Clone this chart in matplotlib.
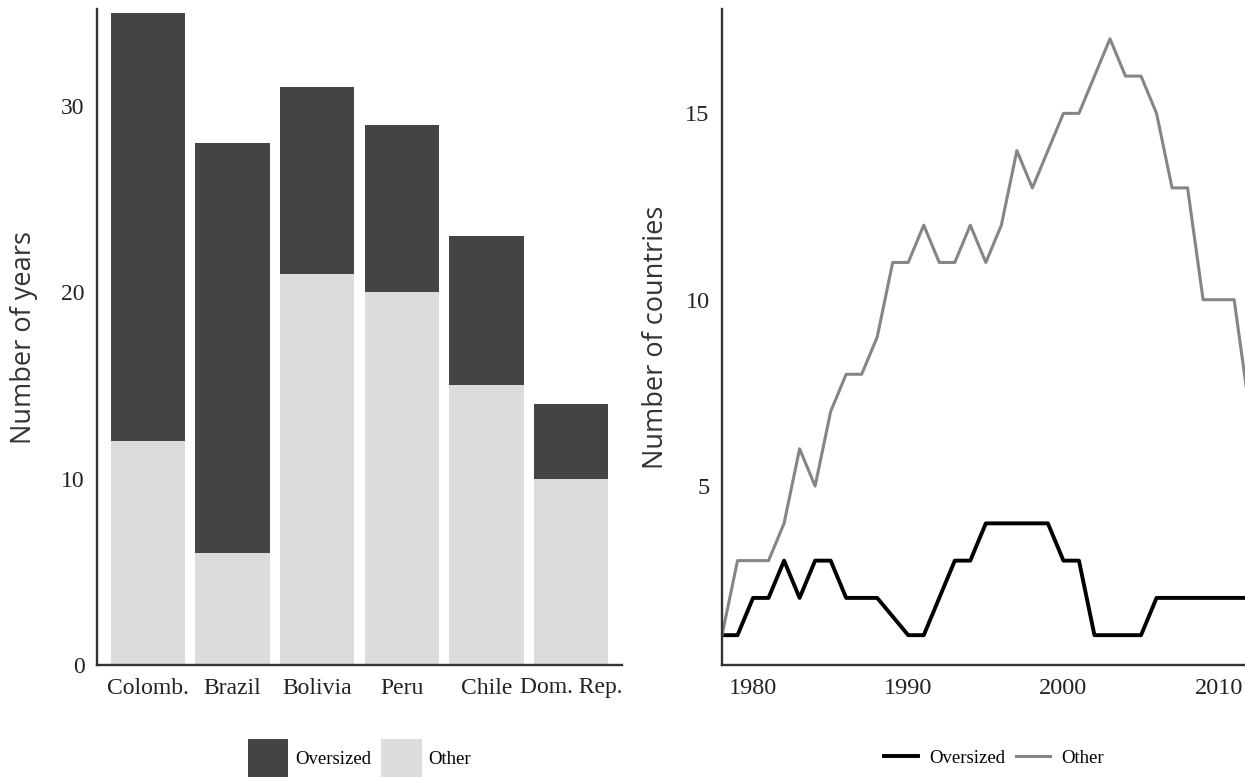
import numpy as np
import matplotlib
matplotlib.use("Agg")
import matplotlib.pyplot as plt

# years in office by country, split by type
countries = ["Colomb.", "Brazil", "Bolivia", "Peru", "Chile", "Dom. Rep."]
other_years = [12, 6, 21, 20, 15, 10]
oversized_years = [23, 22, 10, 9, 8, 4]

# number of countries per year
years = np.arange(1978, 2013)
oversized_count = [1, 1, 2, 2, 3, 2, 3, 3, 2, 2, 2, 1.5, 1, 1, 2, 3, 3, 4, 4, 4,
                   4, 4, 3, 3, 1, 1, 1, 1, 2, 2, 2, 2, 2, 2, 2]
other_count = [1, 3, 3, 3, 4, 6, 5, 7, 8, 8, 9, 11, 11, 12, 11, 11, 12, 11, 12, 14,
               13, 14, 15, 15, 16, 17, 16, 16, 15, 13, 13, 10, 10, 10, 7]
year_ticks = [1980, 1990, 2000, 2010]

DARK = "#444444"
LIGHT = "#dcdcdc"
GREY = "#858585"
SERIF = "Liberation Serif"
SANS = "Open Sans"

fig = plt.figure(figsize=(12.45, 7.78), dpi=100)
ax1 = fig.add_axes([97 / 1245, 113 / 778, 525 / 1245, 656 / 778])
ax2 = fig.add_axes([722 / 1245, 113 / 778, 523 / 1245, 656 / 778])


def style_axes(ax, size):
    for side in ("top", "right"):
        ax.spines[side].set_visible(False)
    for side in ("left", "bottom"):
        ax.spines[side].set_linewidth(1.7)
        ax.spines[side].set_color("#333333")
    ax.tick_params(length=0, pad=9, labelsize=size, labelcolor="#222222")
    for lab in ax.get_xticklabels() + ax.get_yticklabels():
        lab.set_fontfamily(SERIF)


# stacked bars
x = np.arange(len(countries))
ax1.bar(x, other_years, width=0.88, color=LIGHT, label="Other")
ax1.bar(x, oversized_years, width=0.88, bottom=other_years, color=DARK, label="Oversized")
ax1.set_xlim(-0.6, 5.6)
ax1.set_ylim(0, 35.2)
ax1.set_yticks([0, 10, 20, 30])
ax1.set_xticks(x)
ax1.set_xticklabels(countries)
style_axes(ax1, 17)
ax1.set_ylabel("Number of years", family=SANS, fontsize=19.5, color="#333333")
ax1.yaxis.set_label_coords(-0.113, 0.5)

handles, labels = ax1.get_legend_handles_labels()
ax1.legend(handles[::-1], labels[::-1], loc="center", bbox_to_anchor=(0.5, -0.142),
           ncol=2, frameon=False, prop={"family": SERIF, "size": 13.5},
           handlelength=2.15, handleheight=2.7, handletextpad=0.35, columnspacing=0.55)

# time series
ax2.plot(years, oversized_count, color="black", lw=2.8, label="Oversized")
ax2.plot(years, other_count, color=GREY, lw=2.2, label="Other")
ax2.set_xlim(1978, 2011.7)
ax2.set_ylim(0.2, 17.8)
ax2.set_xticks(year_ticks)
ax2.set_yticks([5, 10, 15])
style_axes(ax2, 17.5)
ax2.set_ylabel("Number of countries", family=SANS, fontsize=19.5, color="#333333")
ax2.yaxis.set_label_coords(-0.1, 0.5)
ax2.legend(loc="center", bbox_to_anchor=(0.52, -0.142), ncol=2, frameon=False,
           prop={"family": SERIF, "size": 13.5},
           handlelength=1.8, handletextpad=0.6, columnspacing=0.6)

fig.savefig("out.png", dpi=100)
